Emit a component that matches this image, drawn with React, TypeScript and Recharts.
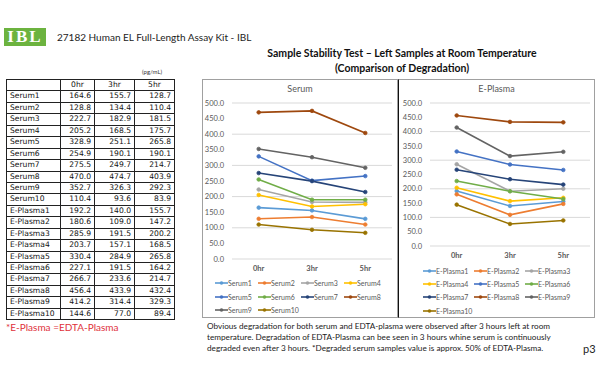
import React from 'react';
import { LineChart, Line, XAxis, YAxis, CartesianGrid } from 'recharts';

const times = ['0hr', '3hr', '5hr'];

const serumNames = ['Serum1', 'Serum2', 'Serum3', 'Serum4', 'Serum5', 'Serum6', 'Serum7', 'Serum8', 'Serum9', 'Serum10'];
const serumValues = [
  [164.6, 155.7, 128.7],
  [128.8, 134.4, 110.4],
  [222.7, 182.9, 181.5],
  [205.2, 168.5, 175.7],
  [328.9, 251.1, 265.8],
  [254.9, 190.1, 190.1],
  [275.5, 249.7, 214.7],
  [470.0, 474.7, 403.9],
  [352.7, 326.3, 292.3],
  [110.4, 93.6, 83.9],
];

const plasmaNames = ['E-Plasma1', 'E-Plasma2', 'E-Plasma3', 'E-Plasma4', 'E-Plasma5', 'E-Plasma6', 'E-Plasma7', 'E-Plasma8', 'E-Plasma9', 'E-Plasma10'];
const plasmaValues = [
  [192.2, 140.0, 155.7],
  [180.6, 109.0, 147.2],
  [285.9, 191.5, 200.2],
  [203.7, 157.1, 168.5],
  [330.4, 284.9, 265.8],
  [227.1, 191.5, 164.2],
  [266.7, 233.6, 214.7],
  [456.4, 433.9, 432.4],
  [414.2, 314.4, 329.3],
  [144.6, 77.0, 89.4],
];

const yTicks = [0, 50, 100, 150, 200, 250, 300, 350, 400, 450, 500];

// excel default series colours
const colors = ['#5b9bd5', '#ed7d31', '#a5a5a5', '#ffc000', '#4472c4', '#70ad47', '#264478', '#9e480e', '#636363', '#997300'];

const buildRows = (names: string[], values: number[][]) =>
  times.map((t, i) => {
    const row: any = { t };
    names.forEach((n, k) => (row[n] = values[k][i]));
    return row;
  });

const serumData = buildRows(serumNames, serumValues);
const plasmaData = buildRows(plasmaNames, plasmaValues);

const tickStyle = { fontSize: 7.5, fill: '#595959', fontFamily: 'Lato, sans-serif' };

// plot is 160px wide, 3 categories -> points sit in the middle of each third
const MiniChart = ({ data, names, width, height, yWidth, right }: any) => (
  <LineChart width={width} height={height} data={data} margin={{ top: 24, right, left: 0, bottom: 0 }}>
    <CartesianGrid vertical={false} stroke="#d9d9d9" />
    <XAxis
      dataKey="t"
      axisLine={false}
      tickLine={false}
      height={16}
      tick={{ ...tickStyle, fontWeight: 700 }}
      tickMargin={1}
      padding={{ left: 26.7, right: 26.7 }}
    />
    <YAxis
      domain={[0, 500]}
      ticks={yTicks}
      width={yWidth}
      axisLine={false}
      tickLine={false}
      tick={tickStyle}
      tickFormatter={(v: number) => v.toFixed(1)}
    />
    {names.map((n: string, i: number) => (
      <Line
        key={n}
        dataKey={n}
        stroke={colors[i]}
        strokeWidth={1.6}
        dot={{ r: 1.8, fill: colors[i], stroke: colors[i], strokeWidth: 0.8 }}
        isAnimationActive={false}
      />
    ))}
  </LineChart>
);

const LegendBox = ({ names, left, top, colWidth, rowHeight, cols }: any) => (
  <div style={{ position: 'absolute', left, top }}>
    {names.map((n: string, i: number) => (
      <div
        key={n}
        style={{
          position: 'absolute',
          left: (i % cols) * colWidth,
          top: Math.floor(i / cols) * rowHeight,
          display: 'flex',
          alignItems: 'center',
          whiteSpace: 'nowrap',
          fontSize: 7,
          color: '#595959',
          fontFamily: 'Lato, sans-serif',
        }}
      >
        <svg width={13} height={6}>
          <line x1={0} y1={3} x2={13} y2={3} stroke={colors[i]} strokeWidth={1.6} />
          <circle cx={6.5} cy={3} r={1.8} fill={colors[i]} />
        </svg>
        <span>{n}</span>
      </div>
    ))}
  </div>
);

const tableRows = [
  ...serumNames.map((n, i) => [n, ...serumValues[i]]),
  ...plasmaNames.map((n, i) => [n, ...plasmaValues[i]]),
];
const colW = [54, 34, 40, 40];
const rowH = 11.43;

const cell = (w: number, align: any): React.CSSProperties => ({
  width: w,
  boxSizing: 'border-box',
  borderRight: '1px solid #222',
  textAlign: align,
  padding: '0 3px',
  lineHeight: `${rowH - 1}px`,
});

export default function App() {
  return (
    <div style={{ position: 'absolute', left: 0, top: 0, width: 600, height: 377, background: '#fff', overflow: 'hidden', fontFamily: 'Lato, sans-serif' }}>
      {/* header */}
      <div style={{ position: 'absolute', left: 4, top: 28, width: 42, height: 18, background: '#6cb33f', color: '#fff', fontFamily: '"Liberation Serif", serif', fontWeight: 700, fontSize: 17, lineHeight: '18px', textAlign: 'center', letterSpacing: 2 }}>
        IBL
      </div>
      <div style={{ position: 'absolute', left: 57, top: 31, fontSize: 10, color: '#222' }}>27182 Human EL Full-Length Assay Kit - IBL</div>
      <div style={{ position: 'absolute', left: 202, width: 400, top: 46, fontSize: 10.5, fontWeight: 700, color: '#111', textAlign: 'center', lineHeight: '15px' }}>
        Sample Stability Test – Left Samples at Room Temperature
        <br />
        (Comparison of Degradation)
      </div>
      <div style={{ position: 'absolute', left: 142, top: 68, fontSize: 6, color: '#333' }}>(pg/mL)</div>

      {/* table */}
      <div style={{ position: 'absolute', left: 6, top: 79, borderTop: '1px solid #222', borderLeft: '1px solid #222', fontSize: 7.6, fontFamily: '"DejaVu Sans", sans-serif', color: '#111' }}>
        <div style={{ display: 'flex', borderBottom: '1px solid #222' }}>
          <div style={cell(colW[0], 'left')}>&nbsp;</div>
          {times.map((t, i) => (
            <div key={t} style={cell(colW[i + 1], 'center')}>{t}</div>
          ))}
        </div>
        {tableRows.map((r) => (
          <div key={r[0] as string} style={{ display: 'flex', borderBottom: '1px solid #222' }}>
            <div style={cell(colW[0], 'left')}>{r[0]}</div>
            {r.slice(1).map((v, i) => (
              <div key={i} style={cell(colW[i + 1], 'right')}>{(v as number).toFixed(1)}</div>
            ))}
          </div>
        ))}
      </div>
      <div style={{ position: 'absolute', left: 6, top: 321, fontSize: 10, color: '#e0303a' }}>*E-Plasma =EDTA-Plasma</div>

      {/* chart frames */}
      <div style={{ position: 'absolute', left: 202, top: 79, width: 196, height: 239, border: '1px solid #a0a0a0', boxSizing: 'border-box' }} />
      <div style={{ position: 'absolute', left: 398, top: 79, width: 197, height: 239, border: '1px solid #a0a0a0', borderLeft: '1.5px solid #111', boxSizing: 'border-box' }} />

      <div style={{ position: 'absolute', left: 202, top: 83, width: 196, textAlign: 'center', fontSize: 9, color: '#595959' }}>Serum</div>
      <div style={{ position: 'absolute', left: 398, top: 83, width: 197, textAlign: 'center', fontSize: 9, color: '#595959' }}>E-Plasma</div>

      <div style={{ position: 'absolute', left: 202, top: 79 }}>
        <MiniChart data={serumData} names={serumNames} width={196} height={196} yWidth={30} right={6} />
      </div>
      <div style={{ position: 'absolute', left: 398, top: 79 }}>
        <MiniChart data={plasmaData} names={plasmaNames} width={196} height={183} yWidth={32} right={4} />
      </div>

      <LegendBox names={serumNames} left={215} top={279} colWidth={43} rowHeight={13.5} cols={4} />
      <LegendBox names={plasmaNames} left={423} top={267} colWidth={51} rowHeight={13.2} cols={3} />

      {/* notes */}
      <div style={{ position: 'absolute', left: 207, top: 321, fontSize: 8.2, lineHeight: '11px', color: '#222', whiteSpace: 'nowrap' }}>
        Obvious degradation for both serum and EDTA-plasma were observed after 3 hours left at room
        <br />
        temperature. Degradation of EDTA-Plasma can bee seen in 3 hours whine serum is continuously
        <br />
        degraded even after 3 hours. *Degraded serum samples value is approx. 50% of EDTA-Plasma.
      </div>
      <div style={{ position: 'absolute', left: 583, top: 342, fontSize: 11, color: '#222' }}>p3</div>
    </div>
  );
}
